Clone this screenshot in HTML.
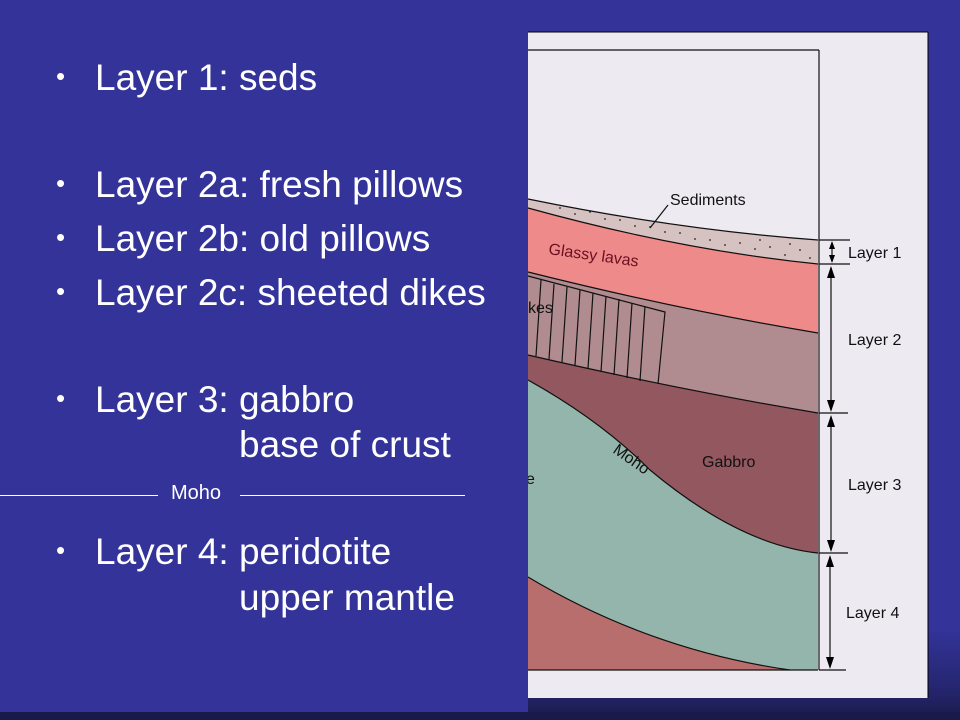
<!DOCTYPE html>
<html><head><style>
html,body{margin:0;padding:0}
body{width:960px;height:720px;background:linear-gradient(#333399 0,#333399 630px,#25256e 690px,#1a1a4a 720px);position:relative;overflow:hidden;font-family:"Liberation Sans",sans-serif}
.panel{position:absolute;left:0;top:0;width:528px;height:712px;background:#333399}
.t{position:absolute;color:#fff;font-size:37px;white-space:nowrap;line-height:1}
.b{position:absolute;color:#fff;font-size:26px;line-height:1}
.dark{position:absolute;left:0;top:712px;width:960px;height:8px;background:#1a1a4a}
</style></head><body>
<div class="dark"></div>
<svg style="position:absolute;left:0;top:0" width="960" height="720">
<rect x="528" y="32" width="400" height="666" fill="#eeeaf2"/>
<line x1="528" y1="32" x2="928" y2="32" stroke="#000"/>
<line x1="928" y1="32" x2="928" y2="698" stroke="#000"/>
<path d="M528 577 Q650 650 790 670 L528 670Z" fill="#b86e6c"/>
<path d="M528 380 Q600 420 650 470 Q740 545 818 553 L818 670 L790 670 Q650 650 528 577Z" fill="#94b5ab"/>
<path d="M528 355 Q680 390 818 413 L818 553 Q740 545 650 470 Q600 420 528 380Z" fill="#93575f"/>
<path d="M528 272 Q680 310 818 333 L818 413 Q680 390 528 355Z" fill="#b08c90"/>
<path d="M528 208 Q680 250 818 264 L818 333 Q680 310 528 272Z" fill="#ee8a8a"/>
<path d="M528 199 Q680 230 818 240 L818 264 Q680 250 528 208Z" fill="#d6c2c0"/>
<g fill="#222">
<circle cx="560" cy="208" r="0.9"/><circle cx="590" cy="212" r="0.9"/><circle cx="620" cy="220" r="0.9"/><circle cx="650" cy="227" r="0.9"/><circle cx="680" cy="233" r="0.9"/><circle cx="710" cy="240" r="0.9"/><circle cx="740" cy="243" r="0.9"/><circle cx="770" cy="247" r="0.9"/><circle cx="800" cy="250" r="0.9"/><circle cx="575" cy="214" r="0.9"/><circle cx="605" cy="219" r="0.9"/><circle cx="635" cy="226" r="0.9"/><circle cx="665" cy="232" r="0.9"/><circle cx="695" cy="239" r="0.9"/><circle cx="725" cy="245" r="0.9"/><circle cx="755" cy="249" r="0.9"/><circle cx="785" cy="255" r="0.9"/><circle cx="810" cy="258" r="0.9"/><circle cx="790" cy="244" r="0.9"/><circle cx="760" cy="240" r="0.9"/>
</g>
<g fill="none" stroke="#111" stroke-width="1.2">
<path d="M528 199 Q680 230 818 240"/><path d="M528 208 Q680 250 818 264"/>
<path d="M528 272 Q680 310 818 333"/><path d="M528 355 Q680 390 818 413"/>
<path d="M528 380 Q600 420 650 470 Q740 545 818 553"/>
<path d="M528 577 Q650 650 790 670"/>
<line x1="528" y1="670" x2="818" y2="670"/>
<line x1="528" y1="50" x2="819" y2="50"/>
<line x1="819" y1="50" x2="819" y2="670"/>
<path d="M528 276 L665 312 L658 384"/>
<path d="M541 280 L536 356 M554 284 L549 359 M567 287 L562 362 M580 290 L575 365 M593 293 L588 368 M606 296 L601 372 M619 299 L614 375 M632 303 L627 378 M645 306 L640 381"/>
<line x1="819" y1="240" x2="850" y2="240"/><line x1="819" y1="264" x2="850" y2="264"/>
<line x1="819" y1="413" x2="848" y2="413"/><line x1="819" y1="553" x2="848" y2="553"/>
<line x1="819" y1="670" x2="846" y2="670"/>
<line x1="832" y1="243" x2="832" y2="261"/>
<line x1="831" y1="268" x2="831" y2="409"/>
<line x1="831" y1="417" x2="831" y2="549"/>
<line x1="830" y1="557" x2="830" y2="666"/>
<line x1="650" y1="228" x2="668" y2="205"/>
</g>
<g fill="#000">
<path d="M832 241 l-3 8 h6z"/><path d="M832 263 l-3 -8 h6z"/>
<path d="M831 266 l-4 12 h8z"/><path d="M831 412 l-4 -12 h8z"/>
<path d="M831 415 l-4 12 h8z"/><path d="M831 552 l-4 -12 h8z"/>
<path d="M830 555 l-4 12 h8z"/><path d="M830 669 l-4 -12 h8z"/>
</g>
<g font-family="Liberation Sans,sans-serif" font-size="16" fill="#111">
<text x="670" y="205">Sediments</text>
<text x="848" y="258">Layer 1</text>
<text x="848" y="345">Layer 2</text>
<text x="848" y="490">Layer 3</text>
<text x="846" y="618">Layer 4</text>
<text x="702" y="467">Gabbro</text>
<text x="548" y="254" fill="#6a1020" transform="rotate(8 548 254)">Glassy lavas</text>
<text x="528" y="313">kes</text>
<text x="526" y="484">e</text>
<text x="612" y="452" transform="rotate(35 612 452)">Moho</text>
</g>
</svg>
<div class="panel"></div>
<div class="b" style="left:56px;top:63px">•</div><div class="t" style="left:95px;top:59px">Layer 1: seds</div>
<div class="b" style="left:56px;top:170px">•</div><div class="t" style="left:95px;top:166px">Layer 2a: fresh pillows</div>
<div class="b" style="left:56px;top:224px">•</div><div class="t" style="left:95px;top:220px">Layer 2b: old pillows</div>
<div class="b" style="left:56px;top:278px">•</div><div class="t" style="left:95px;top:274px">Layer 2c: sheeted dikes</div>
<div class="b" style="left:56px;top:385px">•</div><div class="t" style="left:95px;top:381px">Layer 3: gabbro</div>
<div class="t" style="left:239px;top:426px">base of crust</div>
<div style="position:absolute;left:0;top:495px;width:158px;height:1px;background:#fff"></div>
<div style="position:absolute;left:171px;top:482px;color:#fff;font-size:20px">Moho</div>
<div style="position:absolute;left:240px;top:495px;width:225px;height:1px;background:#fff"></div>
<div class="b" style="left:56px;top:537px">•</div><div class="t" style="left:95px;top:533px">Layer 4: peridotite</div>
<div class="t" style="left:239px;top:579px">upper mantle</div>
</body></html>
